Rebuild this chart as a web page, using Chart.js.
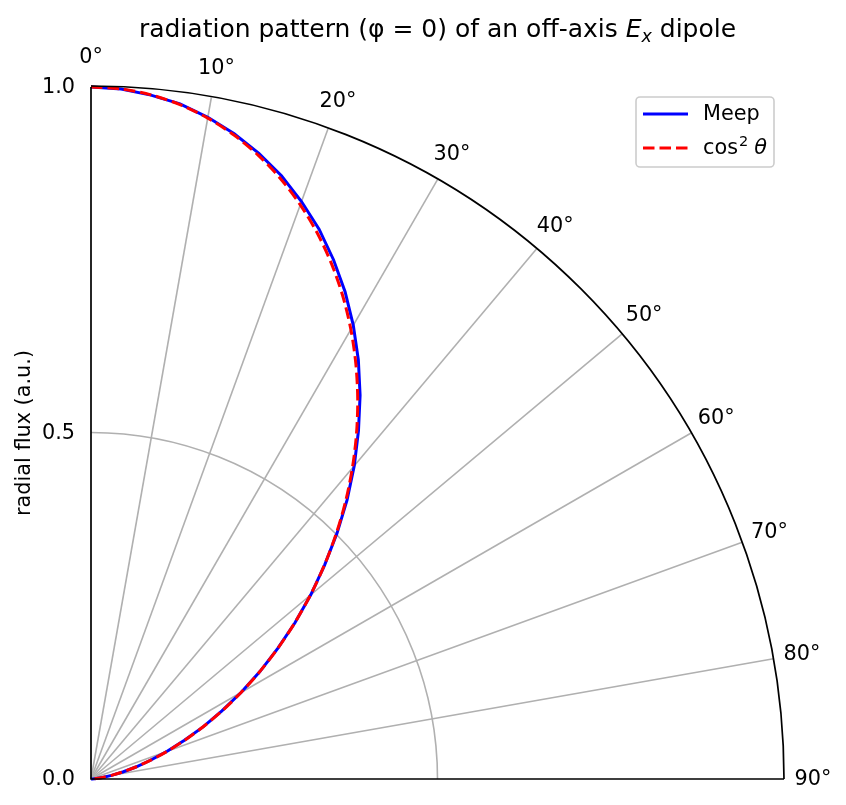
<!DOCTYPE html>
<html>
<head>
<meta charset="utf-8">
<title>radiation pattern</title>
<script src="https://cdn.jsdelivr.net/npm/chart.js@4.4.1/dist/chart.umd.min.js"></script>
<style>
  html, body { margin: 0; padding: 0; background: #fff; }
  canvas { display: block; }
</style>
</head>
<body>
<canvas id="myChart" width="846" height="805"></canvas>
<script>
  // polar angle in degrees, measured from the vertical (0 deg at top)
  const thetaDeg = [0, 2.5, 5, 7.5, 10, 12.5, 15, 17.5, 20, 22.5, 25, 27.5, 30, 32.5, 35, 37.5, 40, 42.5, 45,
                    47.5, 50, 52.5, 55, 57.5, 60, 62.5, 65, 67.5, 70, 72.5, 75, 77.5, 80, 82.5, 85, 87.5, 90];
  const meepFlux = [1.000, 0.998, 0.992, 0.984, 0.971, 0.955, 0.936, 0.914, 0.888, 0.860, 0.828, 0.794,
                    0.757, 0.718, 0.677, 0.634, 0.591, 0.547, 0.502, 0.457, 0.414, 0.371, 0.329, 0.289,
                    0.250, 0.213, 0.179, 0.146, 0.117, 0.090, 0.067, 0.047, 0.030, 0.017, 0.008, 0.002, 0.000];
  const cosSqFlux = [1.0000, 0.9981, 0.9924, 0.9830, 0.9698, 0.9532, 0.9330, 0.9096, 0.8830, 0.8536, 0.8214, 0.7868,
                     0.7500, 0.7113, 0.6710, 0.6294, 0.5868, 0.5436, 0.5000, 0.4564, 0.4132, 0.3706, 0.3290, 0.2887,
                     0.2500, 0.2132, 0.1786, 0.1465, 0.1170, 0.0904, 0.0670, 0.0468, 0.0302, 0.0170, 0.0076, 0.0019, 0.0000];
  const angleTicks = [0, 10, 20, 30, 40, 50, 60, 70, 80, 90];
  const radialTicks = [0.0, 0.5, 1.0];
  const radialTickLabels = ['0.0', '0.5', '1.0'];

  const rad = d => d * Math.PI / 180;
  // polar -> cartesian for the scatter scales
  const toXY = (flux) => thetaDeg.map((t, i) => ({ x: flux[i] * Math.sin(rad(t)), y: flux[i] * Math.cos(rad(t)) }));

  const FONT = '"DejaVu Sans", sans-serif';

  const polarFrame = {
    id: 'polarFrame',
    beforeDatasetsDraw(chart) {
      const { ctx, scales: { x, y } } = chart;
      const ox = x.getPixelForValue(0), oy = y.getPixelForValue(0);
      ctx.save();
      ctx.strokeStyle = '#b0b0b0';
      ctx.lineWidth = 1.6;
      angleTicks.forEach(a => {
        if (a === 0 || a === 90) return;
        ctx.beginPath();
        ctx.moveTo(ox, oy);
        ctx.lineTo(x.getPixelForValue(Math.sin(rad(a))), y.getPixelForValue(Math.cos(rad(a))));
        ctx.stroke();
      });
      radialTicks.forEach(r => {
        if (r === 0 || r === 1) return;
        const pr = x.getPixelForValue(r) - ox;
        ctx.beginPath();
        ctx.arc(ox, oy, pr, -Math.PI / 2, 0, false);
        ctx.stroke();
      });
      ctx.restore();
    },
    afterDatasetsDraw(chart) {
      const { ctx, scales: { x, y } } = chart;
      const ox = x.getPixelForValue(0), oy = y.getPixelForValue(0);
      const R = x.getPixelForValue(1) - ox;
      ctx.save();
      // spines and outer arc
      ctx.strokeStyle = '#000';
      ctx.lineWidth = 1.7;
      ctx.beginPath();
      ctx.moveTo(ox, y.getPixelForValue(1));
      ctx.lineTo(ox, oy);
      ctx.lineTo(x.getPixelForValue(1), oy);
      ctx.stroke();
      ctx.beginPath();
      ctx.arc(ox, oy, R, -Math.PI / 2, 0, false);
      ctx.stroke();

      // angle labels
      ctx.fillStyle = '#000';
      ctx.font = '20.8px ' + FONT;
      ctx.textAlign = 'center';
      ctx.textBaseline = 'middle';
      angleTicks.forEach(a => {
        const d = R + 29;
        ctx.fillText(a + '°', ox + d * Math.sin(rad(a)), oy - d * Math.cos(rad(a)) + 1);
      });

      // radial labels
      ctx.textAlign = 'right';
      radialTicks.forEach((r, i) => {
        ctx.fillText(radialTickLabels[i], ox - 16, y.getPixelForValue(r) + 1);
      });

      // y axis title
      ctx.save();
      ctx.translate(25, (oy + y.getPixelForValue(1)) / 2);
      ctx.rotate(-Math.PI / 2);
      ctx.textAlign = 'center';
      ctx.fillText('radial flux (a.u.)', 0, 0);
      ctx.restore();

      // title with E_x
      const parts = [
        { t: 'radiation pattern (φ = 0) of an off-axis ', f: '25px ' + FONT, dy: 0 },
        { t: 'E', f: 'italic 25px ' + FONT, dy: 0 },
        { t: 'x', f: 'italic 17.5px ' + FONT, dy: 5 },
        { t: ' dipole', f: '25px ' + FONT, dy: 0 }
      ];
      ctx.textAlign = 'left';
      ctx.textBaseline = 'alphabetic';
      let total = 0;
      parts.forEach(p => { ctx.font = p.f; p.w = ctx.measureText(p.t).width; total += p.w; });
      let tx = (ox + x.getPixelForValue(1)) / 2 - total / 2;
      parts.forEach(p => { ctx.font = p.f; ctx.fillText(p.t, tx, 37 + p.dy); tx += p.w; });

      // legend
      const lx = 636, ly = 97, lw = 138, lh = 70;
      ctx.fillStyle = 'rgba(255,255,255,0.8)';
      ctx.strokeStyle = '#cccccc';
      ctx.lineWidth = 1.6;
      ctx.beginPath();
      ctx.roundRect(lx, ly, lw, lh, 4);
      ctx.fill();
      ctx.stroke();
      const ds = chart.data.datasets;
      const rows = [114, 148];
      ds.forEach((d, i) => {
        ctx.strokeStyle = d.borderColor;
        ctx.lineWidth = d.borderWidth;
        ctx.setLineDash(d.borderDash || []);
        ctx.beginPath();
        ctx.moveTo(643, rows[i]);
        ctx.lineTo(688, rows[i]);
        ctx.stroke();
        ctx.setLineDash([]);
      });
      ctx.fillStyle = '#000';
      ctx.textBaseline = 'middle';
      ctx.font = '20.8px ' + FONT;
      ctx.fillText('Meep', 703, rows[0] + 1);
      ctx.fillText('cos', 703, rows[1] + 1);
      let cx = 703 + ctx.measureText('cos').width;
      ctx.font = '14.5px ' + FONT;
      ctx.fillText('2', cx + 1, rows[1] - 6);
      cx += ctx.measureText('2').width + 7;
      ctx.font = 'italic 20.8px ' + FONT;
      ctx.fillText('θ', cx, rows[1] + 1);
      ctx.restore();
    }
  };

  const myChart = new Chart('myChart', {
    type: 'scatter',
    data: {
      datasets: [
        {
          label: 'Meep',
          data: toXY(meepFlux),
          showLine: true,
          borderColor: '#0000ff',
          borderWidth: 3,
          pointRadius: 0,
          order: 1,
          clip: false
        },
        {
          label: 'cos² θ',
          data: toXY(cosSqFlux),
          showLine: true,
          borderColor: '#ff0000',
          borderWidth: 3,
          borderDash: [11.5, 5],
          tension: 0.3,
          pointRadius: 0,
          order: 0,
          clip: false
        }
      ]
    },
    options: {
      responsive: false,
      animation: false,
      devicePixelRatio: 1,
      layout: { padding: { left: 91, right: 62, top: 87, bottom: 26 } },
      scales: {
        x: { type: 'linear', min: 0, max: 1, display: false },
        y: { type: 'linear', min: 0, max: 1, display: false }
      },
      plugins: {
        legend: { display: false },
        tooltip: { enabled: false },
        title: { display: false }
      }
    },
    plugins: [polarFrame]
  });
</script>
</body>
</html>
